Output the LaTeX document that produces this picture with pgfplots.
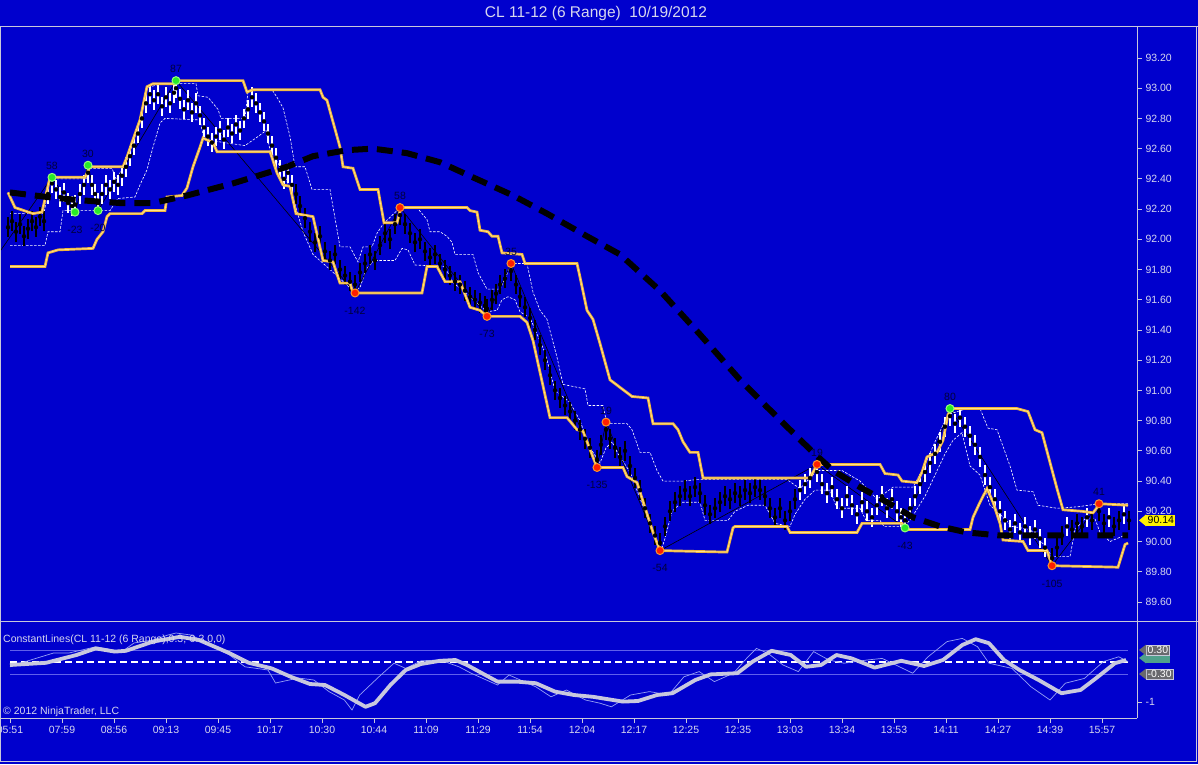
\documentclass[border=0pt]{standalone}
\usepackage{fontspec}
\setmainfont{Liberation Sans}
\usepackage{pgfplots}
\pgfplotsset{compat=1.18}
\definecolor{bg}{RGB}{0,0,205}
\definecolor{frame}{RGB}{200,200,218}
\definecolor{ticktext}{RGB}{215,215,238}
\definecolor{gold}{RGB}{240,180,60}
\definecolor{goldlight}{RGB}{255,228,140}
\definecolor{lbl}{RGB}{0,0,60}
\definecolor{greenm}{RGB}{40,235,40}
\definecolor{greenl}{RGB}{150,255,120}
\definecolor{redm}{RGB}{255,30,0}
\definecolor{redl}{RGB}{255,150,40}
\definecolor{oscthick}{RGB}{200,200,222}
\definecolor{oscthin}{RGB}{150,160,245}
\definecolor{constl}{RGB}{95,95,235}
\definecolor{taggray}{RGB}{105,105,110}
\definecolor{tagteal}{RGB}{80,160,140}
\newcommand{\tf}{\fontsize{10.5}{12}\selectfont}

% price bars (bar index position, mid price)
\pgfplotstableread{
x p
48 92.30
52 92.37
56 92.33
60 92.28
64 92.31
68 92.24
72 92.22
75 92.23
80 92.30
84 92.36
88 92.44
92 92.36
95 92.30
98 92.24
102 92.30
106 92.36
110 92.33
114 92.38
118 92.36
122 92.42
126 92.48
130 92.55
134 92.62
138 92.70
142 92.80
146 92.90
150 92.96
154 92.92
158 92.96
162 92.88
166 92.94
170 92.90
174 92.97
176 93.00
180 92.93
184 92.86
188 92.92
192 92.84
196 92.90
200 92.82
204 92.74
208 92.68
212 92.64
216 92.68
220 92.72
224 92.66
228 92.74
232 92.70
236 92.76
240 92.72
244 92.80
248 92.86
252 92.94
256 92.90
260 92.84
264 92.78
268 92.70
272 92.62
276 92.54
280 92.46
284 92.40
288 92.44
292 92.36
800 90.34
805 90.38
810 90.42
817 90.46
822 90.38
827 90.32
832 90.36
837 90.28
842 90.22
847 90.30
852 90.24
857 90.18
862 90.26
867 90.20
872 90.16
877 90.24
882 90.30
887 90.22
892 90.28
897 90.20
901 90.16
905 90.14
910 90.22
915 90.30
920 90.38
925 90.46
930 90.52
935 90.58
940 90.66
945 90.76
950 90.83
955 90.78
960 90.82
965 90.76
970 90.70
975 90.64
980 90.56
985 90.44
990 90.36
995 90.28
1000 90.20
1005 90.14
1010 90.08
1015 90.12
1020 90.06
1025 90.10
1030 90.04
1035 90.08
1040 90.02
1045 89.96
1067 90.10
1087 90.16
1109 90.16
1124 90.18
}\whitebars
\pgfplotstableread{
x p
8 92.08
12 92.12
16 92.05
20 92.10
24 92.02
28 92.07
32 92.12
36 92.08
40 92.15
44 92.12
296 92.30
300 92.22
305 92.14
310 92.05
315 91.98
320 92.02
325 91.92
330 91.86
335 91.90
340 91.80
345 91.76
350 91.72
355 91.70
360 91.78
365 91.84
370 91.90
375 91.86
380 91.96
385 92.04
390 92.00
395 92.10
400 92.16
405 92.10
410 92.04
415 91.98
420 92.00
425 91.92
430 91.88
435 91.90
440 91.84
445 91.80
450 91.76
455 91.72
460 91.70
465 91.66
470 91.62
475 91.60
480 91.58
485 91.56
487 91.54
492 91.60
496 91.64
500 91.70
505 91.74
511 91.79
516 91.70
520 91.62
525 91.55
530 91.48
535 91.40
540 91.30
545 91.20
550 91.10
555 91.00
560 90.95
565 90.90
570 90.86
575 90.80
580 90.74
585 90.68
590 90.62
597 90.54
601 90.64
606 90.74
610 90.68
615 90.62
620 90.56
625 90.60
630 90.50
635 90.42
640 90.34
645 90.22
650 90.12
655 90.04
660 89.99
665 90.10
670 90.20
675 90.26
680 90.30
685 90.34
690 90.30
695 90.36
700 90.32
705 90.24
710 90.18
715 90.22
720 90.26
725 90.30
730 90.28
735 90.32
740 90.30
745 90.34
750 90.32
755 90.36
760 90.34
765 90.30
770 90.22
775 90.16
780 90.22
785 90.14
790 90.20
795 90.28
1052 89.89
1057 89.96
1062 90.04
1072 90.08
1077 90.12
1082 90.10
1092 90.14
1099 90.20
1104 90.12
1114 90.10
1119 90.14
1129 90.14
}\blackbars
% upper channel
\pgfplotstableread{
x p
8 92.31
15 92.21
33 92.17
42 92.18
50 92.41
85 92.41
90 92.48
123 92.48
127 92.545
133 92.66
140 92.79
147 93.01
153 93.03
175 93.03
176 93.05
243 93.05
247 92.975
253 92.99
320 92.99
323 92.94
327 92.92
340 92.61
343 92.48
353 92.47
360 92.33
378 92.33
384 92.11
397 92.11
401 92.21
467 92.21
470 92.19
477 92.18
480 92.06
488 92.05
492 92.02
498 92.02
502 91.91
522 91.90
525 91.84
577 91.84
580 91.75
587 91.53
593 91.47
600 91.31
610 91.07
632 90.96
648 90.95
653 90.78
673 90.78
678 90.74
683 90.66
690 90.59
698 90.59
703 90.42
810 90.42
817 90.51
880 90.51
885 90.45
898 90.44
902 90.40
917 90.39
922 90.46
927 90.56
937 90.59
943 90.67
948 90.84
952 90.88
1017 90.88
1028 90.86
1035 90.74
1042 90.72
1057 90.35
1063 90.21
1082 90.20
1093 90.19
1100 90.25
1128 90.24
}\upch
% lower channel
\pgfplotstableread{
x p
10 91.82
45 91.82
48 91.91
58 91.93
93 91.94
97 92.00
103 92.05
107 92.15
110 92.17
142 92.17
145 92.19
165 92.19
167 92.28
182 92.29
187 92.34
193 92.48
200 92.61
203 92.67
213 92.64
217 92.58
270 92.58
277 92.44
283 92.36
290 92.35
296 92.17
313 92.15
323 91.86
333 91.85
340 91.71
350 91.71
353 91.645
422 91.645
427 91.82
437 91.82
445 91.72
460 91.72
470 91.55
480 91.53
487 91.49
520 91.49
527 91.45
533 91.33
550 90.82
567 90.82
577 90.74
583 90.73
597 90.49
623 90.49
627 90.43
637 90.39
653 90.06
660 89.94
727 89.93
733 90.09
735 90.10
787 90.10
790 90.06
857 90.06
862 90.12
902 90.12
906 90.08
970 90.08
973 90.16
980 90.26
987 90.35
993 90.26
1000 90.12
1003 90.01
1023 90.00
1028 89.94
1047 89.94
1052 89.84
1118 89.83
1125 89.98
1128 89.99
}\lowch
% fast upper (dashed)
\pgfplotstableread{
x p
10 92.17
44 92.17
50 92.40
86 92.40
90 92.47
112 92.47
116 92.40
122 92.46
128 92.54
134 92.66
140 92.79
147 93.00
160 93.03
196 93.03
198 92.95
208 92.94
218 92.86
221 92.80
245 92.80
248 92.98
272 92.99
277 92.94
283 92.87
290 92.68
295 92.48
305 92.48
312 92.33
330 92.33
340 91.95
350 91.95
358 91.85
363 91.95
372 91.95
377 92.04
383 92.10
400 92.21
417 92.21
427 92.13
430 92.05
440 92.05
447 92.02
452 91.98
455 91.90
473 91.90
478 91.78
487 91.67
500 91.67
507 91.77
510 91.84
527 91.84
533 91.65
540 91.53
547 91.47
557 91.22
563 91.04
585 91.01
588 90.90
603 90.90
607 90.78
627 90.78
632 90.74
640 90.59
650 90.59
657 90.47
663 90.40
683 90.40
697 90.41
787 90.41
800 90.35
817 90.47
842 90.47
860 90.40
877 90.28
893 90.36
913 90.36
923 90.48
935 90.66
948 90.84
967 90.88
980 90.88
988 90.75
997 90.74
1010 90.50
1017 90.34
1033 90.33
1038 90.24
1057 90.22
1078 90.23
1099 90.25
1128 90.25
}\fastup
% fast lower (dashed)
\pgfplotstableread{
x p
10 91.96
45 91.96
48 92.05
60 92.05
63 92.19
110 92.19
118 92.27
135 92.28
140 92.36
147 92.46
153 92.61
160 92.77
165 92.80
200 92.79
204 92.66
245 92.62
258 92.68
266 92.72
270 92.59
283 92.45
292 92.30
303 92.05
313 91.90
330 91.80
340 91.74
353 91.66
360 91.68
366 91.80
374 91.86
395 91.86
402 91.94
408 91.93
415 91.83
445 91.82
452 91.72
470 91.62
487 91.52
497 91.53
502 91.60
508 91.62
515 91.60
520 91.52
530 91.48
545 91.25
555 91.00
570 90.92
580 90.80
590 90.62
600 90.52
606 90.62
612 90.66
618 90.58
630 90.46
645 90.20
655 90.02
662 89.96
665 90.02
672 90.20
682 90.26
700 90.26
705 90.14
728 90.14
735 90.20
748 90.24
765 90.24
775 90.12
790 90.10
795 90.18
805 90.28
815 90.34
830 90.34
837 90.22
860 90.22
866 90.14
880 90.14
884 90.10
903 90.10
910 90.14
925 90.30
935 90.44
945 90.58
953 90.67
962 90.72
970 90.50
980 90.44
990 90.24
1000 90.18
1012 90.10
1030 90.08
1045 89.97
1052 89.90
1070 89.90
1075 90.08
1085 90.15
1095 90.15
1100 90.06
1110 90.00
1128 90.05
}\fastlow
% regression curve
\pgfplotstableread{
x p
10 92.31
47 92.28
77 92.26
120 92.24
153 92.24
187 92.29
233 92.37
287 92.48
313 92.55
347 92.59
373 92.60
407 92.57
440 92.51
473 92.41
513 92.29
547 92.17
587 92.02
620 91.90
660 91.66
700 91.37
740 91.07
767 90.89
793 90.72
813 90.59
833 90.47
860 90.36
887 90.26
913 90.16
940 90.10
967 90.06
1000 90.04
1073 90.04
1128 90.04
}\regcurve
% swing zigzag
\pgfplotstableread{
x p
0 91.92
52 92.41
75 92.18
88 92.49
98 92.19
176 93.05
355 91.645
400 92.21
487 91.49
511 91.84
597 90.49
606 90.79
660 89.94
817 90.51
905 90.09
950 90.88
1052 89.84
1099 90.25
}\zigzag
\pgfplotstableread{
x p lab
52 92.41 58
88 92.49 30
176 93.05 87
950 90.88 80
}\greenhi
\pgfplotstableread{
x p lab
75 92.18 -23
98 92.19 -20
905 90.09 -43
}\greenlo
\pgfplotstableread{
x p lab
400 92.21 58
511 91.84 35
606 90.79 19
817 90.51 19
1099 90.25 41
}\redhi
\pgfplotstableread{
x p lab
355 91.645 -142
487 91.49 -73
597 90.49 -135
660 89.94 -54
1052 89.84 -105
}\redlo
% oscillator
\pgfplotstableread{
x v
10 -0.075
46 -0.02
76.5 0.175
95.7 0.34
114.8 0.26
126 0.28
153 0.51
180 0.63
199 0.55
229.6 0.22
248.8 -0.02
271.7 -0.16
290.8 -0.37
310 -0.55
325 -0.575
344.4 -0.825
365.5 -1.12
375 -1.03
390.4 -0.575
405.7 -0.2
421 -0.05
440 0.03
455.4 0.05
467 -0.075
482 -0.28
497.5 -0.49
516.6 -0.49
535.8 -0.53
555 -0.74
574 -0.825
593 -0.87
622.9 -0.99
638 -0.975
657 -0.825
672.5 -0.78
695.3 -0.45
710.6 -0.31
737.3 -0.28
752.6 0.01
771.6 0.28
790.7 0.175
806 -0.12
821 -0.075
836.5 0.175
851.7 0.09
874.6 -0.14
901.3 0.03
924 -0.1
943 0.05
962.3 0.425
975.7 0.57
989 0.47
1004 0.05
1019.5 -0.2
1038.6 -0.45
1061.5 -0.78
1080.5 -0.7
1095.8 -0.41
1114.9 -0.03
1126 0.05
}\oscslow
\pgfplotstableread{
x v
10 -0.12
30.6 0.05
53.6 0.225
68.9 0.225
95.7 0.38
107 0.33
122 0.26
134 0.475
153 0.55
168 0.675
176 0.725
191 0.675
206.7 0.475
229.6 0.175
245 -0.12
268 -0.2
275.5 -0.525
298.5 -0.4
313.8 -0.45
329 -0.74
344.4 -0.95
352 -1.2
359.7 -0.825
378.9 -0.37
394 -0.03
405.7 -0.16
421 0.03
440 0.05
459 -0.12
470.7 -0.275
497.5 -0.575
509 -0.325
535.8 -0.62
551 -0.87
566.4 -0.7
585.5 -0.95
600 -1.03
611.4 -1.12
630.5 -0.825
649.6 -0.74
668.6 -0.825
683.9 -0.37
699.2 -0.24
714.4 -0.49
733.5 -0.28
745 0.05
756.4 0.34
767.8 0.22
783 -0.075
798.3 -0.24
813.6 0.26
828.8 0.05
844 -0.03
867 0.05
882.2 0.09
912.7 -0.28
928 0.13
947 0.51
962.3 0.59
977.6 0.38
989 -0.03
1012 -0.16
1031 -0.62
1050 -0.95
1065.3 -0.53
1084.4 -0.41
1103.4 0.01
1118.7 0.13
1128 0.01
}\oscfast

\begin{document}
\begin{tikzpicture}[x=1pt,y=1pt]
\useasboundingbox (0,0) rectangle (1198,764);
\fill[bg] (0,0) rectangle (1198,764);
% main price panel
\begin{axis}[
  at={(0pt,143pt)}, anchor=south west, scale only axis,
  width=1137pt, height=594pt,
  xmin=0, xmax=1137, ymin=89.474, ymax=93.405,
  axis x line=none, axis y line*=right,
  axis line style={-, draw=frame, line width=1pt},
  ytick={89.6,89.8,90.0,90.2,90.4,90.6,90.8,91.0,91.2,91.4,91.6,91.8,92.0,92.2,92.4,92.6,92.8,93.0,93.2},
  yticklabel style={font=\tf, text=ticktext, /pgf/number format/.cd, fixed, fixed zerofill, precision=2},
  /pgf/number format/assume math mode=true,
  tick style={draw=frame, line width=0.8pt}, major tick length=5pt, tick align=outside,
]
\addplot[white, line width=0.6pt, dash pattern=on 2.5pt off 1.5pt] table[x=x,y=p] {\fastup};
\addplot[white, line width=0.6pt, dash pattern=on 2.5pt off 1.5pt] table[x=x,y=p] {\fastlow};
\addplot[black, line width=0.6pt] table[x=x,y=p] {\zigzag};
\addplot[only marks, mark=none, error bars/.cd, y dir=both, y fixed=0.065, error mark=none,
  error bar style={draw=black, solid, line width=1.1pt}] table[x=x,y=p] {\blackbars};
\addplot[only marks, mark=none, error bars/.cd, y dir=both, y fixed=0.065, error mark=none,
  error bar style={draw=white, solid, line width=1.1pt}] table[x=x,y=p] {\whitebars};
\addplot[gold, line width=1pt, double=goldlight, double distance=0.7pt] table[x=x,y=p] {\upch};
\addplot[gold, line width=1pt, double=goldlight, double distance=0.7pt] table[x=x,y=p] {\lowch};
% labels
\pgfplotsset{lblhi/.style={only marks, mark=*, mark size=0.2pt, mark options={draw=none, fill=lbl},
   point meta=explicit symbolic, nodes near coords,
   every node near coord/.style={font=\tf, text=lbl, anchor=south, yshift=4.5pt}},
   lbllo/.style={only marks, mark=*, mark size=0.2pt, mark options={draw=none, fill=lbl},
   point meta=explicit symbolic, nodes near coords,
   every node near coord/.style={font=\tf, text=lbl, anchor=north, yshift=-10.5pt}}}
\addplot[lblhi] table[x=x,y=p,meta=lab] {\greenhi};
\addplot[lblhi] table[x=x,y=p,meta=lab] {\redhi};
\addplot[lbllo] table[x=x,y=p,meta=lab] {\greenlo};
\addplot[lbllo] table[x=x,y=p,meta=lab] {\redlo};
\addplot[black, line width=6pt, dash pattern=on 16pt off 9pt] table[x=x,y=p] {\regcurve};
\addplot[only marks, mark=*, mark size=4pt, mark options={fill=greenm, draw=greenl, line width=1pt}] table[x=x,y=p] {\greenhi};
\addplot[only marks, mark=*, mark size=4pt, mark options={fill=greenm, draw=greenl, line width=1pt}] table[x=x,y=p] {\greenlo};
\addplot[only marks, mark=*, mark size=4pt, mark options={fill=redm, draw=redl, line width=1pt}] table[x=x,y=p] {\redhi};
\addplot[only marks, mark=*, mark size=4pt, mark options={fill=redm, draw=redl, line width=1pt}] table[x=x,y=p] {\redlo};
\coordinate (lasttag) at (axis cs:1137,90.14);
\end{axis}
% oscillator panel
\begin{axis}[
  at={(0pt,46pt)}, anchor=south west, scale only axis,
  width=1137pt, height=96pt,
  xmin=0, xmax=1137, ymin=-1.4, ymax=1.0,
  axis x line*=bottom, axis y line*=right,
  axis line style={-, draw=frame, line width=1pt},
  xtick={10,62,114,166,218,270,322,374,426,478,530,582,634,686,738,790,842,894,946,998,1050,1102},
  xticklabels={05:51,07:59,08:56,09:13,09:45,10:17,10:30,10:44,11:09,11:29,11:54,12:04,12:17,12:25,12:35,13:03,13:34,13:53,14:11,14:27,14:39,15:57},
  ytick={-1}, yticklabels={-1},
  xticklabel style={font=\tf, text=ticktext},
  yticklabel style={font=\tf, text=ticktext},
  tick style={draw=frame, line width=0.8pt}, major tick length=5pt, tick align=outside,
]
\addplot[constl, line width=0.8pt] coordinates {(10,0.3) (1128,0.3)};
\addplot[constl, line width=0.8pt] coordinates {(10,-0.3) (1128,-0.3)};
\addplot[white, line width=1.6pt, dash pattern=on 7pt off 4pt] coordinates {(10,0) (1128,0)};
\addplot[oscthin, line width=0.7pt] table[x=x,y=v] {\oscfast};
\addplot[oscthick, line width=3.8pt, line join=round] table[x=x,y=v] {\oscslow};
\coordinate (tagA) at (axis cs:1137,0.3);
\coordinate (tagB) at (axis cs:1137,-0.3);
\coordinate (tagC) at (axis cs:1137,0.1);
\end{axis}
% frame lines
\draw[frame, line width=1pt] (0,737) -- (1198,737);
\draw[frame, line width=1pt] (0,142.5) -- (1198,142.5);
\draw[frame, line width=1pt] (0.5,2.5) -- (0.5,737);
\draw[frame, line width=1pt] (1196.5,2.5) -- (1196.5,737);
\draw[frame, line width=1pt] (0.5,2.5) -- (1196.5,2.5);
% texts
\node[font=\fontsize{15.5}{18}\selectfont, text=ticktext] at (596,751) {CL 11-12 (6 Range)\ \ 10/19/2012};
\node[font=\tf, text=ticktext, anchor=west, inner sep=0pt] at (3,124) {ConstantLines(CL 11-12 (6 Range),0.3,-0.3,0,0)};
\node[font=\tf, text=ticktext, anchor=west, inner sep=0pt] at (3,52) {\textcopyright\ 2012 NinjaTrader, LLC};
% value tags
\node[font=\tf, fill=yellow, text=black, inner xsep=1.5pt, inner ysep=2pt, anchor=west] (t0) at ([xshift=9pt]lasttag) {90.14};
\fill[yellow] (t0.north west) -- ([xshift=-7pt]t0.west) -- (t0.south west) -- cycle;
\node[font=\tf, fill=tagteal, inner xsep=1.5pt, inner ysep=1.5pt, anchor=west] (tc) at ([xshift=9pt]tagC) {\phantom{0.15}};
\fill[tagteal] (tc.north west) -- ([xshift=-7pt]tc.west) -- (tc.south west) -- cycle;
\node[font=\tf, fill=taggray, draw=frame, line width=0.4pt, text=white, inner xsep=1.5pt, inner ysep=1.5pt, anchor=west] (ta) at ([xshift=9pt]tagA) {0.30};
\fill[taggray] (ta.north west) -- ([xshift=-7pt]ta.west) -- (ta.south west) -- cycle;
\node[font=\tf, fill=taggray, draw=frame, line width=0.4pt, text=white, inner xsep=1.5pt, inner ysep=1.5pt, anchor=west] (tb) at ([xshift=9pt]tagB) {-0.30};
\fill[taggray] (tb.north west) -- ([xshift=-7pt]tb.west) -- (tb.south west) -- cycle;
\end{tikzpicture}
\end{document}
